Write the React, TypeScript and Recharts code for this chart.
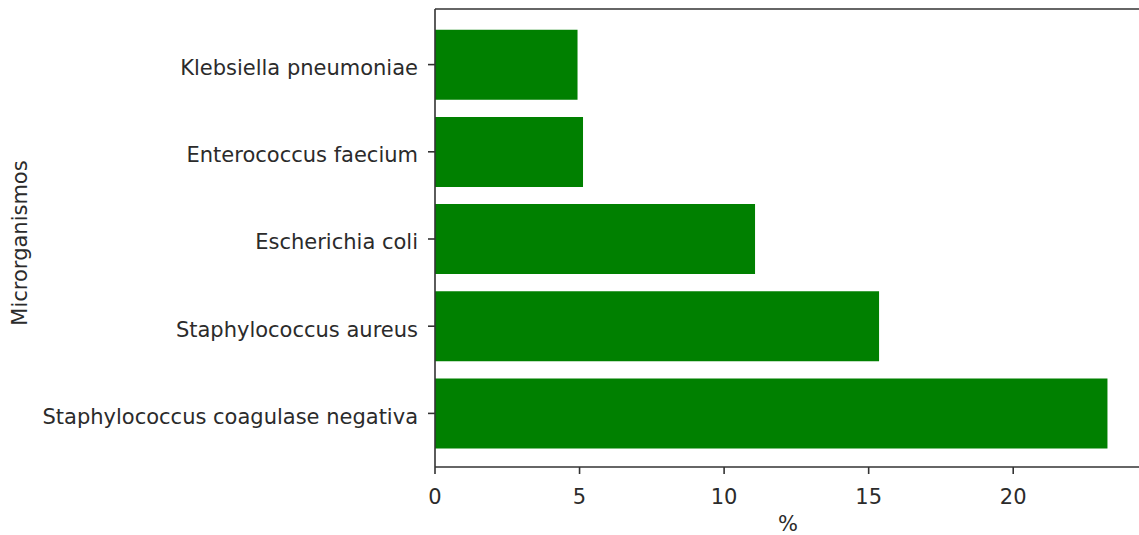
import React from 'react'
import { BarChart, Bar, XAxis, YAxis } from 'recharts'

const organisms = [
  'Klebsiella pneumoniae',
  'Enterococcus faecium',
  'Escherichia coli',
  'Staphylococcus aureus',
  'Staphylococcus coagulase negativa',
]
const percents = [4.93, 5.12, 11.07, 15.36, 23.26]
const xTicks = [0, 5, 10, 15, 20]

const data = organisms.map((name, i) => ({ name, value: percents[i] }))

const FONT = '"DejaVu Sans", sans-serif'
const TEXT = '#2b2b2b'
const SPINE = '#333'

const YLabel = () => {
  const y = 243
  return (
    <text
      x={27}
      y={y}
      transform={`rotate(-90, 27, ${y})`}
      textAnchor="middle"
      fontFamily={FONT}
      fontSize={21}
      fill={TEXT}
    >
      Microrganismos
    </text>
  )
}

const XLabel = ({ viewBox }: any) => {
  const cx = viewBox.x + viewBox.width / 2
  return (
    <text x={cx} y={531} textAnchor="middle" fontFamily={FONT} fontSize={21} fill={TEXT}>
      %
    </text>
  )
}

const App: React.FC = () => {
  return (
    <div style={{ position: 'absolute', left: 0, top: 0, width: 1139, height: 535, overflow: 'hidden', background: '#fff' }}>
      <BarChart
        width={1145}
        height={535}
        data={data}
        layout="vertical"
        barCategoryGap="10%"
        margin={{ top: 8, right: 4, left: 0, bottom: 0 }}
      >
        <XAxis
          type="number"
          domain={[0, 24.42]}
          ticks={xTicks}
          allowDataOverflow
          height={68}
          tickSize={7}
          tickMargin={15}
          axisLine={{ stroke: SPINE, strokeWidth: 1.6 }}
          tickLine={{ stroke: SPINE, strokeWidth: 1.6 }}
          tick={{ fontSize: 21, fill: TEXT, fontFamily: FONT }}
          label={<XLabel />}
        />
        <XAxis
          xAxisId="top"
          orientation="top"
          type="number"
          domain={[0, 24.42]}
          height={1}
          tick={false}
          tickLine={false}
          axisLine={{ stroke: SPINE, strokeWidth: 1.6 }}
        />
        <YAxis
          type="category"
          dataKey="name"
          width={435}
          padding={{ top: 12, bottom: 10 }}
          tickSize={7}
          tickMargin={10}
          interval={0}
          axisLine={{ stroke: SPINE, strokeWidth: 1.6 }}
          tickLine={{ stroke: SPINE, strokeWidth: 1.6 }}
          tick={{ fontSize: 21, fill: TEXT, fontFamily: FONT, dy: 3 }}
          label={<YLabel />}
        />
        <Bar dataKey="value" fill="#008000" isAnimationActive={false} />
      </BarChart>
    </div>
  )
}

export default App
